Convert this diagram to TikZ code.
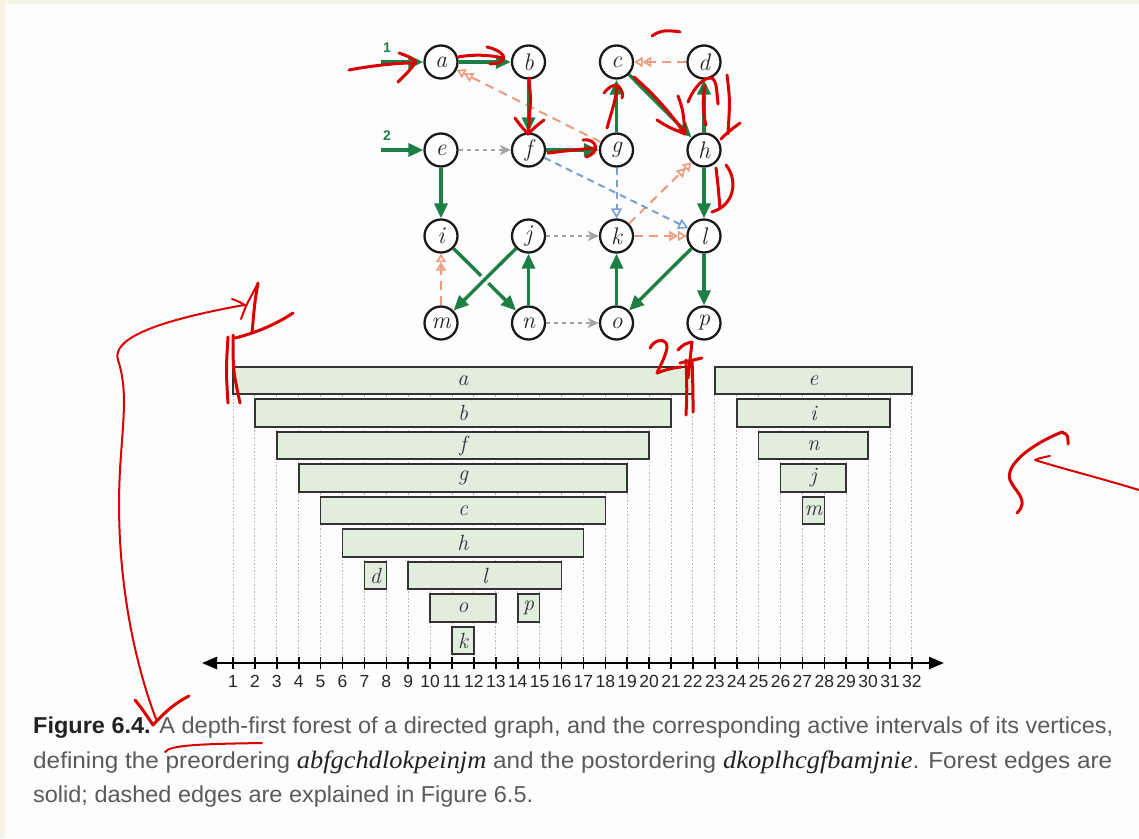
\documentclass[tikz,border=0pt]{standalone}
\usepackage{fontspec}
\usepackage{graphicx}
\newfontfamily\capsans{Liberation Sans}
\newfontfamily\capserif{Liberation Serif}
\usetikzlibrary{arrows.meta}

\definecolor{fgreen}{HTML}{1E7F45}
\definecolor{salmon}{HTML}{EE9A7E}
\definecolor{fwdblue}{HTML}{7A9ED6}
\definecolor{crossgray}{HTML}{A3A3A3}
\definecolor{barfill}{HTML}{E1EEDE}
\definecolor{barline}{HTML}{333333}
\definecolor{redink}{HTML}{D80000}
\definecolor{capgray}{HTML}{5A5A5A}
\definecolor{capdark}{HTML}{222222}
\definecolor{paper}{HTML}{FCFDFC}
\definecolor{frame}{HTML}{F5F2E6}

\tikzset{
  vert/.style={circle, draw=black!90, line width=2.3pt, fill=white,
    minimum size=33pt, inner sep=0pt, text=black!85, font=\fontsize{24}{24}\selectfont\itshape},
  tree/.style={draw=fgreen, line width=3.4pt,
    -{Triangle[length=15pt,width=13pt]}},
  startlbl/.style={text=fgreen, font=\capsans\bfseries\fontsize{14}{14}\selectfont, inner sep=0pt},
  cross/.style={draw=crossgray, line width=2pt, dash pattern=on 4pt off 4pt,
    -{Stealth[length=11pt,width=10pt,inset=3pt]}},
  back/.style={draw=salmon, line width=2pt, dash pattern=on 9pt off 6pt,
    -{Triangle[open,length=8.5pt,width=10pt,line width=1.6pt] Triangle[open,length=8.5pt,width=10pt,line width=1.6pt]}},
  fwd/.style={draw=fwdblue, line width=2pt, dash pattern=on 7pt off 5pt,
    -{Triangle[open,length=10pt,width=11pt,line width=1.6pt]}},
  bar/.style={rectangle, draw=barline, line width=1.6pt, fill=barfill,
    minimum height=27.5pt, inner sep=0pt, text=barline,
    font=\fontsize{22}{22}\selectfont\itshape},
  guide/.style={draw=crossgray!85, line width=1pt, dash pattern=on 1.5pt off 2pt},
  num/.style={font=\capsans\fontsize{17.5}{17.5}\selectfont, text=black!85, inner sep=0pt, anchor=base},
  ink/.style={draw=redink, line width=3pt, line cap=round, line join=round},
  thinink/.style={draw=redink, line width=2pt, line cap=round, line join=round},
}

\begin{document}
\begin{tikzpicture}[x=1pt,y=-1pt]
  % page
  \fill[frame] (0,0) rectangle (1139,838);
  \fill[paper] (5,4) rectangle (1139,838);
  \useasboundingbox (0,0) rectangle (1139,838);

  % ---------- graph ----------
  \node[vert] (a) at (441,62) {a};
  \node[vert] (b) at (528.5,62) {b};
  \node[vert] (c) at (616.5,62) {c};
  \node[vert] (d) at (704,62) {d};
  \node[vert] (e) at (441,150) {e};
  \node[vert] (f) at (528.5,150) {f};
  \node[vert] (g) at (616.5,150) {g};
  \node[vert] (h) at (704,150) {h};
  \node[vert] (i) at (441,236) {i};
  \node[vert] (j) at (528.5,236) {j};
  \node[vert] (k) at (616.5,236) {k};
  \node[vert] (l) at (704,236) {l};
  \node[vert] (m) at (441,323) {m};
  \node[vert] (n) at (528.5,323) {n};
  \node[vert] (o) at (616.5,323) {o};
  \node[vert] (p) at (704,323) {p};

  \coordinate (s1) at (381,62);
  \coordinate (s2) at (381,150);
  \node[startlbl] (l1) at (387,48) {1};
  \node[startlbl] (l2) at (387,136) {2};

  % non-tree edges
  \draw[cross] (e) -- (f);
  \draw[cross] (j) -- (k);
  \draw[cross] (n) -- (o);
  \draw[back] (d) -- (c);
  \draw[back] (g) -- (a);
  \draw[back] (k) -- (h);
  \draw[back] (k) -- (l);
  \draw[back] (m) -- (i);
  \draw[fwd] (f) -- (l);
  \draw[fwd] (g) -- (k);

  % forest edges
  \draw[tree] (s1) -- (a);
  \draw[tree] (a) -- (b);
  \draw[tree] (b) -- (f);
  \draw[tree] (f) -- (g);
  \draw[tree] (g) -- (c);
  \draw[tree] (c) -- (h);
  \draw[tree] (h) -- (d);
  \draw[tree] (h) -- (l);
  \draw[tree] (l) -- (o);
  \draw[tree] (l) -- (p);
  \draw[tree] (o) -- (k);
  \draw[tree] (s2) -- (e);
  \draw[tree] (e) -- (i);
  \draw[tree] (i) -- (n);
  \draw[tree] (n) -- (j);
  \draw[tree, preaction={draw=white, line width=10pt, -, shorten <=14pt, shorten >=18pt}] (j) -- (m);

  % ---------- interval chart ----------
  \foreach \t in {1,...,32}
    \draw[guide] ({233+(\t-1)*21.9},367) -- ({233+(\t-1)*21.9},663);

  \foreach \v/\s/\e/\r in {a/1/22/0, b/2/21/1, f/3/20/2, g/4/19/3, c/5/18/4,
      h/6/17/5, d/7/8/6, l/9/16/6, o/10/13/7, p/14/15/7, k/11/12/8,
      e/23/32/0, i/24/31/1, n/25/30/2, j/26/29/3, m/27/28/4}
    \node[bar, minimum width={(\e-\s)*21.9pt}] (iv-\v)
      at ({233+(\s+\e-2)/2*21.9},{380.5+\r*32.5}) {\v};

  % time axis
  \coordinate (axl) at (202,663);
  \coordinate (axr) at (944,663);
  \draw[line width=2.4pt, {Triangle[length=15pt,width=12pt]}-{Triangle[length=15pt,width=12pt]}] (axl) -- (axr);
  \foreach \t in {1,...,32} {
    \draw[line width=1.6pt] ({233+(\t-1)*21.9},657) -- ({233+(\t-1)*21.9},669);
    \node[num] (t\t) at ({233+(\t-1)*21.9},687) {\t};
  }

  % ---------- caption ----------
  \node[anchor=base west, inner sep=0pt, text=capgray] (cap1) at (33,733)
    {\resizebox{1080pt}{\height}{\capsans\fontsize{23}{23}\selectfont
      {\color{capdark}\bfseries Figure 6.4.} A depth-first forest of a directed graph, and the corresponding active intervals of its vertices,}};
  \node[anchor=base west, inner sep=0pt, text=capgray] (cap2) at (33,768)
    {\resizebox{1079pt}{\height}{\capsans\fontsize{23}{23}\selectfont
      defining the preordering {\capserif\itshape\color{capdark}\fontsize{25}{25}\selectfont abfgchdlokpeinjm} and the postordering {\capserif\itshape\color{capdark}\fontsize{25}{25}\selectfont dkoplhcgfbamjnie}. Forest edges are}};
  \node[anchor=base west, inner sep=0pt, text=capgray] (cap3) at (33,802)
    {\resizebox{500pt}{\height}{\capsans\fontsize{23}{23}\selectfont
      solid; dashed edges are explained in Figure 6.5.}};

  % ---------- red pen marks ----------
  % arrow into a
  \draw[ink] (349,70) .. controls (370,66) and (395,63) .. (412,63);
  \draw[ink] (399,53) .. controls (410,57) .. (416,62) .. controls (410,70) .. (398,82);
  % a to b
  \draw[ink] (458,57) .. controls (475,54) and (490,55) .. (503,58);
  \draw[ink] (487,47) .. controls (500,50) and (506,56) .. (503,60) .. controls (500,63) .. (490,64);
  % b to f
  \draw[ink] (529,78) .. controls (531,100) .. (528,134);
  \draw[ink] (515,118) .. controls (520,125) .. (528,134) .. controls (535,127) .. (544,120);
  % f to g
  \draw[ink] (548,153) .. controls (565,151) and (582,149) .. (596,148);
  \draw[ink] (583,140) .. controls (596,138) and (602,152) .. (586,157);
  % g to c
  \draw[ink] (607,128) .. controls (612,110) and (616,100) .. (617,86);
  \draw[ink] (604,93) .. controls (610,85) and (618,82) .. (621,90) .. controls (623,94) .. (622,98);
  % squiggle over c
  \draw[ink] (652,36) .. controls (660,30) and (668,30) .. (680,32);
  % c to h
  \draw[ink] (634,77) .. controls (655,95) and (672,115) .. (685,134);
  \draw[ink] (657,120) .. controls (668,127) .. (685,134);
  \draw[ink] (678,96) .. controls (683,110) .. (685,133);
  % h to d
  \draw[ink] (688,102) .. controls (695,85) and (705,77) .. (712,78) .. controls (716,82) .. (718,104);
  \draw[ink] (705,86) .. controls (702,100) and (703,115) .. (706,125);
  \draw[ink] (727,75) .. controls (730,100) .. (728,134);
  \draw[ink] (721,139) .. controls (728,132) .. (740,123);
  % h to l
  \draw[ink] (716,168) .. controls (718,185) .. (720,208);
  \draw[ink] (726,165) .. controls (738,180) and (735,205) .. (712,212);
  % count 22
  \draw[ink] (650,348) .. controls (655,338) and (668,338) .. (667,348) .. controls (665,358) and (660,366) .. (657,373) .. controls (665,370) and (672,368) .. (681,367);
  \draw[ink] (678,350) .. controls (684,344) .. (692,342) .. controls (690,360) .. (688,378);
  \draw[ink] (680,363) -- (702,358);
  \draw[ink] (686,360) .. controls (687,390) .. (686,415);
  \draw[ink] (692,360) .. controls (693,390) .. (693,412);
  % left bracket marks
  \draw[ink] (228,337) .. controls (226,370) .. (228,403);
  \draw[ink] (233,335) .. controls (233,370) .. (240,403);
  \draw[ink] (258,283) .. controls (255,300) .. (252,333);
  \draw[ink] (235,338) .. controls (255,333) and (275,325) .. (293,313);
  % long return arrow on the left
  \draw[thinink] (156,719) .. controls (130,650) and (115,560) .. (120,470)
    .. controls (123,420) and (128,390) .. (118,360)
    .. controls (112,340) and (150,322) .. (244,305);
  \draw[thinink] (232,299) .. controls (240,302) .. (246,306) .. controls (243,312) .. (241,319);
  \draw[thinink] (246,306) -- (258,283);
  \draw[ink] (135,700) .. controls (143,710) .. (153,725) .. controls (165,712) and (175,703) .. (189,696);
  % underline in caption
  \draw[thinink] (165,752) .. controls (170,745) and (200,744) .. (262,743);
  % arrow on the right
  \draw[thinink] (1139,490) .. controls (1100,478) and (1060,468) .. (1035,460) .. controls (1040,458) .. (1050,456);
  \draw[ink] (1068,444) .. controls (1068,435) .. (1062,432) .. controls (1030,445) and (1005,465) .. (1010,480) .. controls (1015,492) and (1030,500) .. (1017,513);
\end{tikzpicture}
\end{document}
